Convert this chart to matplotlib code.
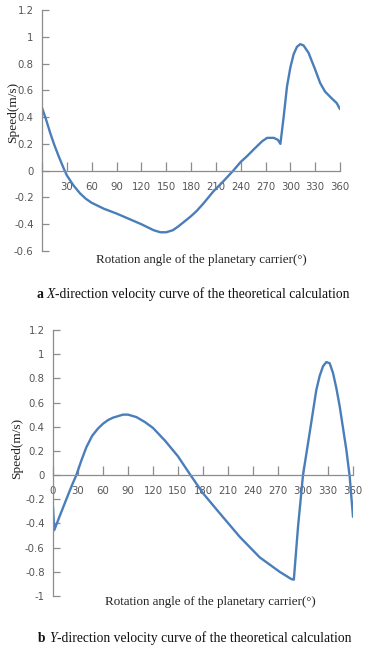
import matplotlib
matplotlib.use("Agg")
import matplotlib.pyplot as plt

# ---- data ----
x_angle = [0, 5, 10, 15, 20, 26, 30, 38, 46, 53, 60, 75, 90, 105, 120, 135, 143, 150,
           158, 165, 172, 180, 187, 195, 207, 219, 231, 240, 248, 256, 266, 272, 280,
           285, 288, 292, 296, 300, 304, 308, 312, 316, 322, 330, 336, 342, 350, 356,
           360]
x_speed = [0.47, 0.38, 0.28, 0.19, 0.11, 0.02, -0.035, -0.11, -0.17, -0.21, -0.24,
           -0.285, -0.32, -0.36, -0.40, -0.445, -0.46, -0.46, -0.445, -0.415, -0.38,
           -0.34, -0.30, -0.245, -0.155, -0.08, 0.0, 0.065, 0.11, 0.16, 0.22, 0.245,
           0.245, 0.23, 0.20, 0.405, 0.63, 0.77, 0.87, 0.925, 0.945, 0.935, 0.88,
           0.755, 0.655, 0.59, 0.54, 0.505, 0.46]

y_angle = [0, 1.5, 8, 16, 23, 28, 34, 40, 47, 54, 60, 66, 72, 84, 90, 100, 110, 120,
           135, 150, 165, 180, 200, 224, 248, 272, 286, 289, 294, 300, 308, 316, 320,
           324, 328, 332, 336, 340, 344, 348, 352, 356, 360]
y_speed = [-0.26, -0.455, -0.34, -0.2, -0.08, 0.0, 0.12, 0.23, 0.325, 0.385, 0.425,
           0.455, 0.475, 0.50, 0.50, 0.48, 0.44, 0.39, 0.28, 0.155, 0.0, -0.15,
           -0.315, -0.51, -0.68, -0.80, -0.86, -0.865, -0.43, 0.0, 0.35, 0.705,
           0.82, 0.90, 0.935, 0.925, 0.845, 0.72, 0.57, 0.39, 0.21, -0.01, -0.345]

x_ticks = [0, 30, 60, 90, 120, 150, 180, 210, 240, 270, 300, 330, 360]
top_xlabels = [""] + [str(v) for v in x_ticks[1:]]
bot_xlabels = [str(v) for v in x_ticks]
top_yticks = [-0.6, -0.4, -0.2, 0, 0.2, 0.4, 0.6, 0.8, 1, 1.2]
top_ylabels = ["-0.6", "-0.4", "-0.2", "0", "0.2", "0.4", "0.6", "0.8", "1", "1.2"]
bot_yticks = [-1, -0.8, -0.6, -0.4, -0.2, 0, 0.2, 0.4, 0.6, 0.8, 1, 1.2]
bot_ylabels = ["-1", "-0.8", "-0.6", "-0.4", "-0.2", "0", "0.2", "0.4", "0.6",
               "0.8", "1", "1.2"]

W, H = 366, 647
fig = plt.figure(figsize=(W / 100, H / 100), dpi=100)

LINE = "#4a7ebb"
AXC = "#8c8c8c"
TXT = "#555555"
TICKFONT = ["Liberation Sans Narrow", "DejaVu Sans"]
SERIF = ["Liberation Serif", "DejaVu Serif"]


def px_axes(l, r, top, bot):
    return fig.add_axes([l / W, 1 - bot / H, (r - l) / W, (bot - top) / H])


def style(ax, ylim, yticks, ylabels, xlabels):
    ax.set_xlim(0, 360)
    ax.set_ylim(*ylim)
    ax.spines["top"].set_visible(False)
    ax.spines["right"].set_visible(False)
    ax.spines["bottom"].set_position(("data", 0))
    for s in ("left", "bottom"):
        ax.spines[s].set_color(AXC)
        ax.spines[s].set_linewidth(0.9)
    ax.set_xticks(x_ticks)
    ax.set_xticklabels(xlabels, family=TICKFONT, fontsize=7.3, color=TXT)
    ax.set_yticks(yticks)
    ax.set_yticklabels(ylabels, family=TICKFONT, fontsize=7.3, color=TXT)
    ax.tick_params(axis="x", direction="in", length=6.5, width=0.9, color=AXC, pad=8)
    ax.tick_params(axis="y", direction="in", length=5, width=0.9, color=AXC, pad=6)
    ax.patch.set_visible(False)


ax1 = px_axes(42, 340, 10, 251)
ax1.plot(x_angle, x_speed, color=LINE, lw=1.7, solid_joinstyle="round",
         solid_capstyle="round")
style(ax1, (-0.6, 1.2), top_yticks, top_ylabels, top_xlabels)

ax2 = px_axes(53, 353, 330, 596)
ax2.plot(y_angle, y_speed, color=LINE, lw=1.7, solid_joinstyle="round",
         solid_capstyle="round")
style(ax2, (-1, 1.2), bot_yticks, bot_ylabels, bot_xlabels)

# axis labels
LBL = 9.6
fig.text(13 / W, 1 - 112 / H, "Speed(m/s)", rotation=90, ha="center", va="center",
         family=SERIF, fontsize=LBL, color="#222222")
fig.text(17.5 / W, 1 - 448 / H, "Speed(m/s)", rotation=90, ha="center", va="center",
         family=SERIF, fontsize=LBL, color="#222222")
fig.text(201.7 / W, 1 - 260 / H, "Rotation angle of the planetary carrier(°)",
         ha="center", va="center", family=SERIF, fontsize=9.35, color="#222222")
fig.text(210 / W, 1 - 601.7 / H, "Rotation angle of the planetary carrier(°)",
         ha="center", va="center", family=SERIF, fontsize=9.35, color="#222222")

CAP = 9.8


def caption(x0, yc, letter, axis):
    t1 = fig.text(x0 / W, 1 - yc / H, letter + " ", ha="left", va="center",
                  family=SERIF, fontsize=CAP, fontweight="bold", color="#111111")
    a2 = plt.annotate(axis, xy=(1, 0), xycoords=t1, va="bottom", ha="left",
                      family=SERIF, fontsize=CAP, style="italic", color="#111111",
                      annotation_clip=False)
    plt.annotate("-direction velocity curve of the theoretical calculation",
                 xy=(1, 0), xycoords=a2, va="bottom", ha="left", family=SERIF,
                 fontsize=CAP, color="#111111", annotation_clip=False)


caption(36.7, 294.3, "a", "X")
caption(38.3, 638.3, "b", "Y")

fig.savefig("out.png", dpi=100)
